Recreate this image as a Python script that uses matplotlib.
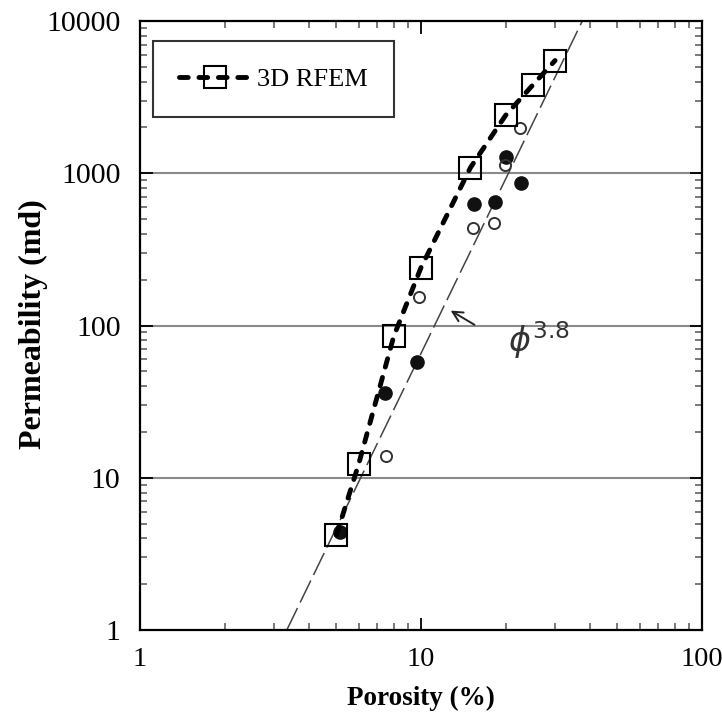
import matplotlib
matplotlib.use("Agg")
import matplotlib.pyplot as plt
from matplotlib.ticker import LogLocator, NullFormatter, FixedLocator, FixedFormatter

# ---- data ----
rfem_porosity = [5, 6, 8, 10, 15, 20, 25, 30]
rfem_perm = [4.2, 12.3, 85, 240, 1090, 2400, 3800, 5500]

filled_porosity = [5.15, 7.45, 9.7, 15.4, 18.4, 20.0, 22.6]
filled_perm = [4.4, 36, 57.5, 630, 645, 1280, 865]

open_porosity = [7.5, 9.85, 15.3, 18.2, 19.9, 22.5]
open_perm = [13.8, 155, 437, 470, 1140, 1980]

law_porosity = [3.33, 37.5]   # phi^3.8 trend line end points
law_perm = [1, 10000]

xticks = [1, 10, 100]
xticklabels = ["1", "10", "100"]
yticks = [1, 10, 100, 1000, 10000]
yticklabels = ["1", "10", "100", "1000", "10000"]

plt.rcParams['font.family'] = ['Liberation Serif', 'DejaVu Serif']
plt.rcParams['mathtext.fontset'] = 'dejavusans'

fig = plt.figure(figsize=(7.22, 7.15), dpi=100)
ax = fig.add_axes([140/722, 1-630/715, (702-140)/722, (630-21)/715])
ax.set_xscale('log')
ax.set_yscale('log')
ax.set_xlim(1, 100)
ax.set_ylim(1, 10000)

# grid at interior decades
for g in [10, 100, 1000]:
    ax.axhline(g, color='#8a8a8a', lw=1.5, zorder=1)

# phi^3.8 trend line
ax.plot(law_porosity, law_perm, color='#444444', lw=1.1, dashes=(16, 4), zorder=2)

# experimental data
ax.plot(filled_porosity, filled_perm, 'o', color='#111111', ms=9.5, zorder=3, linestyle='none')
ax.plot(open_porosity, open_perm, 'o', mfc='none', mec='#333333', mew=1.4, ms=8, zorder=3, linestyle='none')

# 3D RFEM
ln, = ax.plot(rfem_porosity, rfem_perm, color='black', lw=3.5, marker='s', ms=15.5,
              mfc='none', mec='black', mew=1.5, label='3D RFEM', zorder=4,
              dash_capstyle='round')
ln.set_dashes((1.8, 2.2))

# annotation
ax.annotate('', xy=(12.5, 128), xytext=(15.8, 99),
            arrowprops=dict(arrowstyle='->', lw=1.4, color='#222222', mutation_scale=18))
ax.text(20.4, 80, r'$\phi^{3.8}$', fontsize=24, color='#333333', ha='left', va='center')

# ticks
ax.xaxis.set_major_locator(FixedLocator(xticks))
ax.xaxis.set_major_formatter(FixedFormatter(xticklabels))
ax.yaxis.set_major_locator(FixedLocator(yticks))
ax.yaxis.set_major_formatter(FixedFormatter(yticklabels))
ax.xaxis.set_minor_locator(LogLocator(base=10, subs=range(2, 10)))
ax.yaxis.set_minor_locator(LogLocator(base=10, subs=range(2, 10)))
ax.xaxis.set_minor_formatter(NullFormatter())
ax.yaxis.set_minor_formatter(NullFormatter())
ax.tick_params(which='major', direction='in', length=9, width=1.3,
               top=True, right=True)
ax.tick_params(axis='y', which='major', pad=14, labelsize=21.5)
ax.tick_params(axis='x', which='major', pad=12, labelsize=20.5)
ax.tick_params(which='minor', direction='in', length=5, width=1.1, color='#555555',
               top=True, right=True)

for s in ax.spines.values():
    s.set_linewidth(1.6)

ax.set_xlabel('Porosity (%)', fontsize=19.5, fontweight='bold', labelpad=10)
ax.set_ylabel('Permeability (md)', fontsize=23, fontweight='bold')
ax.yaxis.set_label_coords((48-140)/562, 0.502)

leg = ax.legend(loc='upper left', bbox_to_anchor=((153-140)/562, 1-(41-21)/609),
                fontsize=19, frameon=True, fancybox=False, handlelength=2.7,
                borderpad=1.0, borderaxespad=0, handletextpad=0.25)
leg.get_frame().set_edgecolor('black')
leg.get_frame().set_linewidth(1.5)

fig.savefig('out.png', dpi=100)
